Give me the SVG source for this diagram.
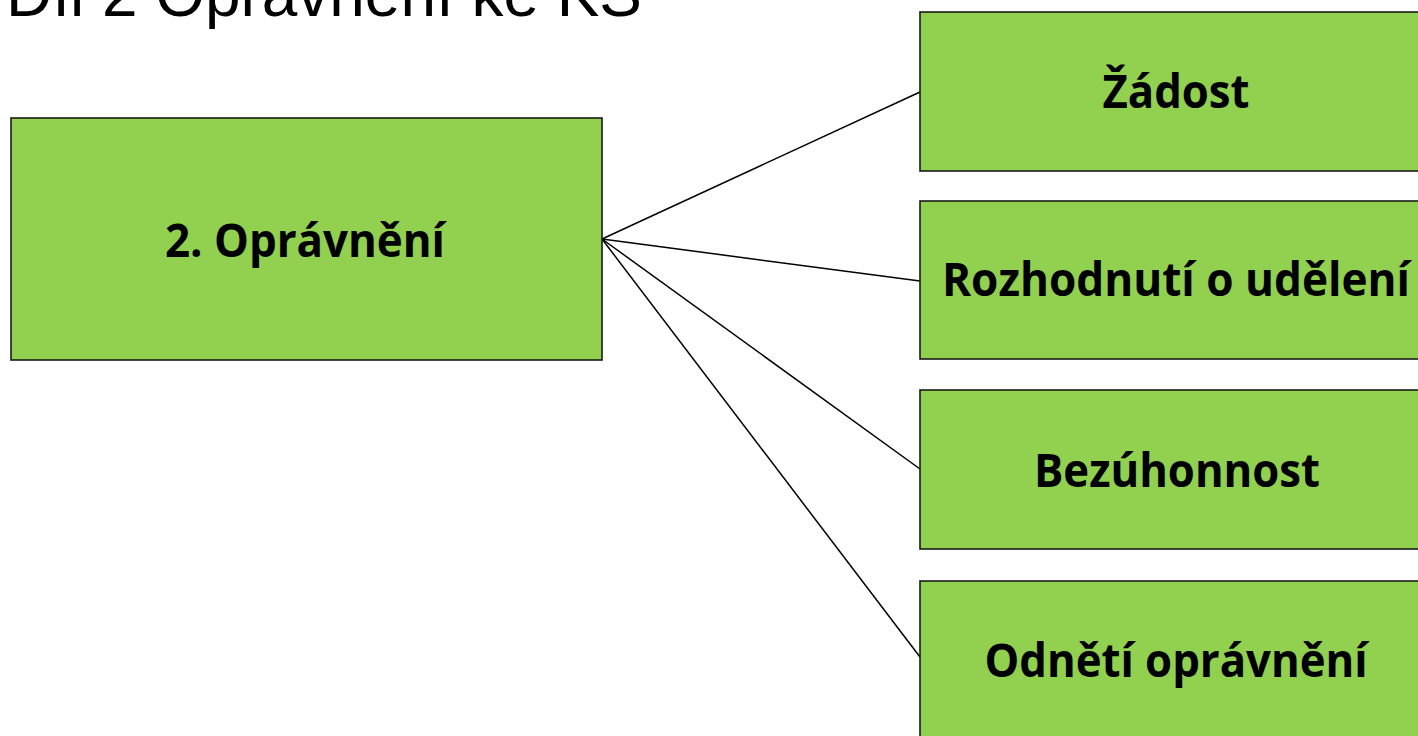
<svg xmlns="http://www.w3.org/2000/svg" width="1418" height="736" viewBox="0 0 1418 736">
<style>
.box{fill:#92D050;stroke:#1a1a1a;stroke-width:1.6}
.lbl{font-family:"Open Sans","Noto Sans","DejaVu Sans",sans-serif;font-weight:bold;font-size:46px;fill:#000;text-anchor:middle}
.title{font-family:"Liberation Sans",Arial,sans-serif;font-size:64px;fill:#000}
.conn{stroke:#000;stroke-width:1.5;fill:none}
</style>
<rect width="1418" height="736" fill="#fff"/>
<text class="title" x="6" y="16" textLength="636" lengthAdjust="spacingAndGlyphs">Díl 2 Oprávnění ke KS</text>
<g id="connectors">
<line class="conn" x1="602" y1="239" x2="920" y2="92"/>
<line class="conn" x1="602" y1="239" x2="920" y2="281"/>
<line class="conn" x1="602" y1="239" x2="920" y2="469"/>
<line class="conn" x1="602" y1="239" x2="920" y2="657"/>
</g>
<g id="node-main">
<rect class="box" x="11" y="118" width="591" height="242"/>
<text class="lbl" x="305" y="257" textLength="280" lengthAdjust="spacingAndGlyphs">2. Oprávnění</text>
</g>
<g id="node-zadost">
<rect class="box" x="920" y="12" width="512" height="159"/>
<text class="lbl" x="1176" y="108" textLength="147" lengthAdjust="spacingAndGlyphs">Žádost</text>
</g>
<g id="node-rozhodnuti">
<rect class="box" x="920" y="201" width="512" height="158"/>
<text class="lbl" x="1176" y="296" textLength="468" lengthAdjust="spacingAndGlyphs">Rozhodnutí o udělení</text>
</g>
<g id="node-bezuhonnost">
<rect class="box" x="920" y="390" width="512" height="159"/>
<text class="lbl" x="1177" y="487" textLength="286" lengthAdjust="spacingAndGlyphs">Bezúhonnost</text>
</g>
<g id="node-odneti">
<rect class="box" x="920" y="581" width="512" height="170"/>
<text class="lbl" x="1176" y="677" textLength="383" lengthAdjust="spacingAndGlyphs">Odnětí oprávnění</text>
</g>
</svg>
